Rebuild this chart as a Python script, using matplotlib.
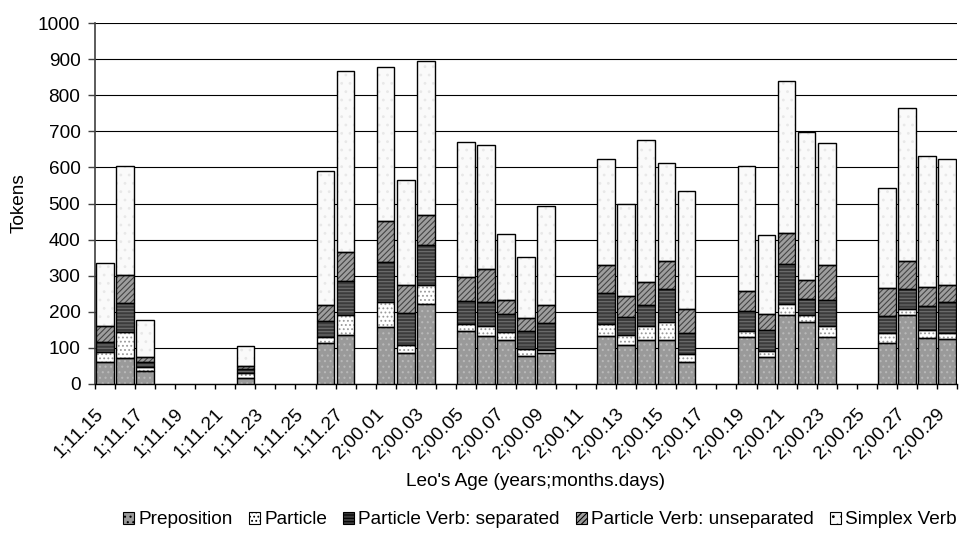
import matplotlib
matplotlib.use("Agg")
import matplotlib.pyplot as plt
import numpy as np
from matplotlib.patches import Patch
import matplotlib.transforms as mtransforms

plt.rcParams['font.family'] = ['Liberation Sans', 'DejaVu Sans']
plt.rcParams['hatch.linewidth'] = 0.8

categories = (["1;11.%02d" % d for d in range(15, 29)] +
              ["2;00.%02d" % d for d in range(1, 30)])

# index -> values (bars present)
bar_index = [0, 1, 2, 7, 11, 12, 14, 15, 16, 18, 19, 20, 21, 22,
             25, 26, 27, 28, 29, 32, 33, 34, 35, 36, 39, 40, 41, 42]
preposition = [60, 73, 37, 18, 113, 136, 157, 85, 221, 148, 133, 123, 77, 85,
               133, 108, 121, 122, 61, 129, 76, 190, 171, 129, 113, 190, 127, 124]
particle = [29, 72, 11, 12, 17, 56, 71, 22, 53, 17, 28, 22, 20, 9,
            33, 27, 40, 50, 22, 18, 16, 32, 21, 32, 27, 19, 22, 17]
pv_separated = [27, 79, 13, 11, 44, 92, 110, 91, 110, 64, 66, 48, 49, 74,
                87, 50, 59, 92, 59, 56, 57, 111, 43, 72, 48, 54, 67, 85]
pv_unseparated = [45, 79, 13, 9, 44, 82, 114, 77, 85, 68, 92, 41, 36, 52,
                  76, 58, 62, 78, 66, 56, 44, 86, 52, 98, 78, 78, 52, 49]
simplex_verb = [175, 302, 103, 54, 372, 502, 425, 289, 426, 372, 344, 182, 169, 274,
                294, 256, 395, 270, 326, 345, 221, 421, 410, 337, 277, 424, 364, 347]

series_names = ["Preposition", "Particle", "Particle Verb: separated",
                "Particle Verb: unseparated", "Simplex Verb"]
series_vals = [preposition, particle, pv_separated, pv_unseparated, simplex_verb]
faces = ['#9a9a9a', '#ffffff', '#3c3c3c', '#9e9e9e', '#fafafa']
hatches = ['...', '....', '-----', '//////', '..']
hatchcols = ['#b8b8b8', '#9a9a9a', '#707070', '#454545', '#e8e8e8']

fig = plt.figure(figsize=(9.64, 5.36), dpi=100)
ax = fig.add_axes([95/964, 1-384/536, (957-95)/964, (384-23)/536])

n = len(categories)
x = np.array(bar_index)
bottom = np.zeros(len(bar_index))
W = 0.88
for name, vals, fc, h, hc in zip(series_names, series_vals, faces, hatches, hatchcols):
    v = np.array(vals, dtype=float)
    ax.bar(x, v, W, bottom=bottom, color=fc, hatch=h, edgecolor=hc, linewidth=0, zorder=3)
    ax.bar(x, v, W, bottom=bottom, fill=False, edgecolor='black', linewidth=1.0, zorder=4)
    bottom += v

ax.set_xlim(-0.5, n - 0.5)
ax.set_ylim(0, 1000)
ax.set_yticks(np.arange(0, 1001, 100))
ax.yaxis.grid(True, color='black', linewidth=0.8, zorder=0)
ax.set_axisbelow(True)
for s in ['top', 'right']:
    ax.spines[s].set_visible(False)
ax.spines['left'].set_color('#404040')
ax.spines['left'].set_linewidth(1.2)
ax.spines['bottom'].set_linewidth(1.0)

ax.tick_params(axis='y', length=5, width=1, direction='out', labelsize=13.7, pad=5.5, color='#404040')
ax.set_xticks(np.arange(-0.5, n, 1.0))
ax.tick_params(axis='x', which='major', length=3.6, width=1, direction='out', labelbottom=False)

lab_pos = np.arange(0, n, 2)
ax.set_xticks(lab_pos, minor=True)
ax.set_xticklabels([categories[i] for i in lab_pos], minor=True, rotation=45,
                   ha='right', va='top', rotation_mode='anchor', fontsize=13.7)
ax.tick_params(axis='x', which='minor', length=0, pad=15)
off = mtransforms.ScaledTranslation(-11/100, 0, fig.dpi_scale_trans)
for lbl in ax.get_xticklabels(minor=True):
    lbl.set_transform(lbl.get_transform() + off)

fig.text(536/964, 1-482/536, "Leo's Age (years;months.days)", ha='center', va='center', fontsize=13.7)
fig.text(19/964, 1-203/536, "Tokens", ha='center', va='center', rotation=90, fontsize=13.7)

handles = [Patch(facecolor=fc, edgecolor='black', hatch=h, linewidth=0.8)
           for fc, h in zip(faces, hatches)]
fig.legend(handles, series_names, loc='center', bbox_to_anchor=(540/964, 1-520/536),
           ncol=5, frameon=False, fontsize=13.7, handlelength=0.58, handleheight=0.58,
           handletextpad=0.22, columnspacing=0.85, borderpad=0, borderaxespad=0)

fig.savefig("out.png", dpi=100)
